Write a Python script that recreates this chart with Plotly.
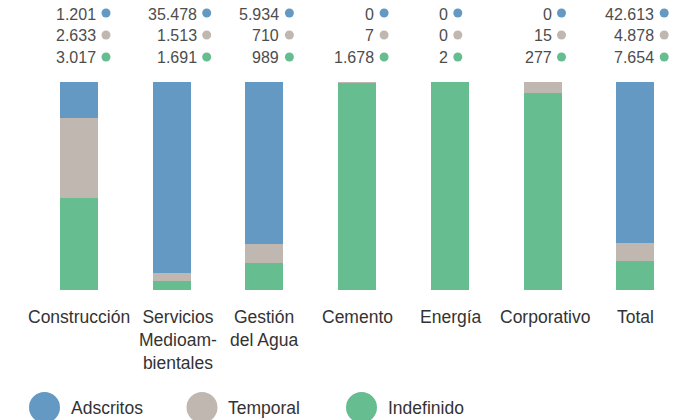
import plotly.graph_objects as go

# datos
categorias = ["Construcción", "Servicios<br>Medioam-<br>bientales", "Gestión<br>del Agua",
              "Cemento", "Energía", "Corporativo", "Total"]
adscritos = [1201, 35478, 5934, 0, 0, 0, 42613]
temporal = [2633, 1513, 710, 7, 0, 15, 4878]
indefinido = [3017, 1691, 989, 1678, 2, 277, 7654]

series = ["Adscritos", "Temporal", "Indefinido"]
colores = {"Adscritos": "#6399c2", "Temporal": "#c0b8b0", "Indefinido": "#66bd8f"}

W, H = 689, 420
PASO = 92.7          # px entre barras
X0 = 79              # centro primera barra (px)
TOP, BOT = 82, 290   # zona de barras (px)
FUENTE = "Liberation Sans, Arial, sans-serif"

# desplazamiento del punto de color respecto al centro de barra (px)
off_punto = [27, 35, 25, 27, 8, 19, 29]
# desplazamiento de la etiqueta de categoría (px)
off_etiqueta = [0, 6, 0, 0, 1, 2, 0]
filas_y = [13, 35, 57]

def py(p):
    return (BOT - p) / (BOT - TOP)

def px(p):
    return p / W

def fmt(v):
    return f"{v:,}".replace(",", ".")

x = list(range(len(categorias)))
fig = go.Figure()
for nombre, vals in [("Indefinido", indefinido), ("Temporal", temporal), ("Adscritos", adscritos)]:
    fig.add_trace(go.Bar(x=x, y=vals, name=nombre, width=0.41,
                         marker=dict(color=colores[nombre], line=dict(width=0)),
                         showlegend=False))

shapes = []
annotations = []
for i, cat in enumerate(categorias):
    cx = X0 + PASO * i
    dot = cx + off_punto[i]
    for fila, (nombre, vals) in enumerate(zip(series, [adscritos, temporal, indefinido])):
        yy = filas_y[fila]
        shapes.append(dict(type="circle", xref="paper", yref="paper",
                           xsizemode="pixel", ysizemode="pixel",
                           xanchor=px(dot), yanchor=py(yy),
                           x0=-4.5, x1=4.5, y0=-4.5, y1=4.5,
                           fillcolor=colores[nombre], line=dict(width=0)))
        annotations.append(dict(xref="paper", yref="paper", x=px(dot - 8), y=py(yy + 1),
                                xanchor="right", yanchor="middle", showarrow=False,
                                text=fmt(vals[i]),
                                font=dict(family=FUENTE, size=16, color="#4d4d4d")))
    annotations.append(dict(xref="paper", yref="paper", x=px(cx + off_etiqueta[i]), y=py(305),
                            xanchor="center", yanchor="top", showarrow=False,
                            text=cat, align="center",
                            font=dict(family=FUENTE, size=17.5, color="#333333")))

# leyenda manual
leyenda_x = [44.5, 202, 361.5]
for nombre, lx in zip(series, leyenda_x):
    shapes.append(dict(type="circle", xref="paper", yref="paper",
                       xsizemode="pixel", ysizemode="pixel",
                       xanchor=px(lx), yanchor=py(407.5),
                       x0=-15.5, x1=15.5, y0=-15.5, y1=15.5,
                       fillcolor=colores[nombre], line=dict(width=0)))
    annotations.append(dict(xref="paper", yref="paper", x=px(lx + 24), y=py(408),
                            xanchor="left", yanchor="middle", showarrow=False,
                            text=nombre,
                            font=dict(family=FUENTE, size=17.5, color="#333333")))

fig.update_layout(
    width=W, height=H,
    margin=dict(l=0, r=0, t=TOP, b=H - BOT, pad=0),
    barmode="stack", barnorm="percent",
    plot_bgcolor="white", paper_bgcolor="white",
    xaxis=dict(range=[-X0 / PASO, (W - X0) / PASO], visible=False, fixedrange=True),
    yaxis=dict(range=[0, 100], visible=False, fixedrange=True),
    shapes=shapes, annotations=annotations,
)

# sin margen del body para que la figura ocupe la ventana completa
fig.write_html("out.html", config={"displayModeBar": False},
               post_script="document.body.style.margin='0';document.body.style.overflow='hidden';")
